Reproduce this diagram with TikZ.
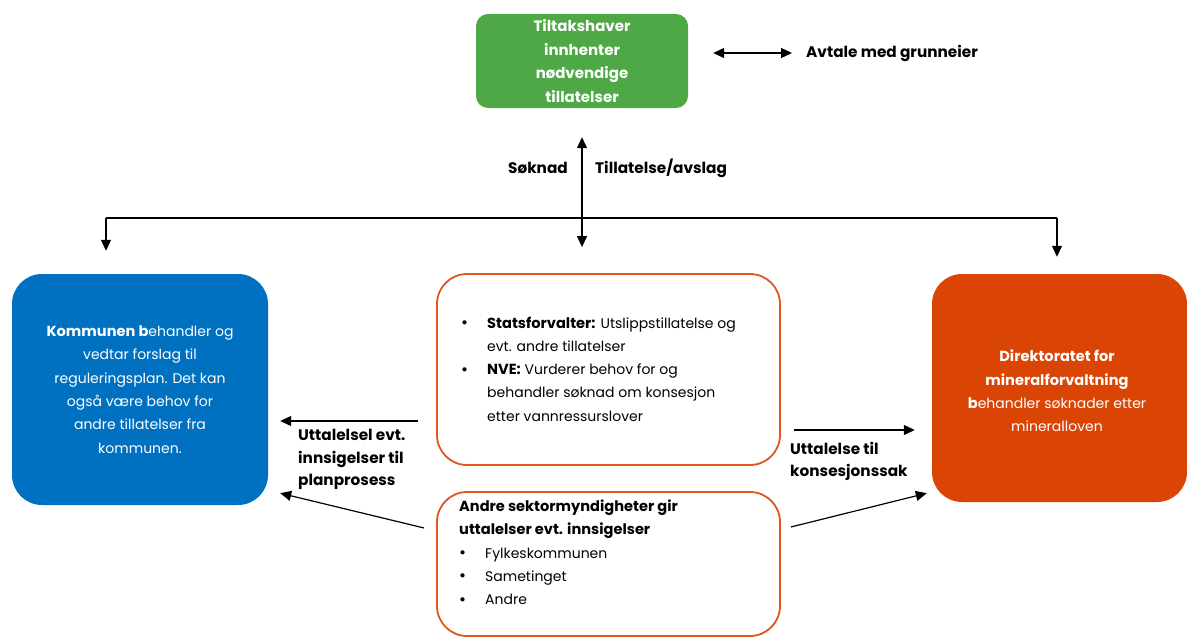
\documentclass[tikz,border=0pt]{standalone}
\usepackage{fontspec}
\setmainfont{Poppins}
\usetikzlibrary{arrows.meta,calc}
\definecolor{cgreen}{HTML}{4EA845}
\definecolor{cblue}{HTML}{0070C0}
\definecolor{corange}{HTML}{DA4506}
\definecolor{cline}{HTML}{E0561C}
\newcommand{\bul}{\makebox[26pt][l]{\raisebox{-0.5pt}{\fontsize{17}{0}\selectfont\textbullet}}}
\newcommand{\B}[1]{{\fontsize{14.6}{23.3}\selectfont\bfseries #1}}
\begin{document}
\begin{tikzpicture}[x=1pt,y=-1pt,
  box/.style={rounded corners=#1, inner sep=0pt},
  body/.style={font=\fontsize{14}{23.3}\selectfont},
  arr/.style={-{Triangle[length=11pt,width=10pt]}, line width=1.2pt},
  darr/.style={{Triangle[length=11pt,width=10pt]}-{Triangle[length=11pt,width=10pt]}, line width=1.2pt},
  lbl/.style={font=\fontsize{15.3}{22.5}\selectfont\bfseries, align=left, inner sep=0pt},
]
\useasboundingbox (0,0) rectangle (1187,637);

% boxes
\node[box=12pt, fill=cgreen, minimum width=212pt, minimum height=94pt, text=white, align=center,
  font=\fontsize{15}{23.5}\selectfont\bfseries] (green) at (582,61)
  {Tiltakshaver\\innhenter\\nødvendige\\tillatelser};

\node[box=30pt, fill=cblue, minimum width=256pt, minimum height=231pt, text=white, align=center, body] (kommune) at (140,389.5)
  {\B{Kommunen b}ehandler og\\vedtar forslag til\\reguleringsplan. Det kan\\også være behov for\\andre tillatelser fra\\kommunen.};

\node[box=30pt, draw=cline, line width=1.8pt, minimum width=343pt, minimum height=191pt] (stat) at (608.5,369.5) {};
\node[anchor=west, inner sep=0pt, body] (statT) at (461,370)
  {\begin{tabular}{@{}l@{}}
   \bul\B{Statsforvalter:} Utslippstillatelse og\\
   \hspace*{26pt}evt. andre tillatelser\\
   \bul\B{NVE:} Vurderer behov for og\\
   \hspace*{26pt}behandler søknad om konsesjon\\
   \hspace*{26pt}etter vannressurslover
   \end{tabular}};

\node[box=30pt, draw=cline, line width=1.8pt, minimum width=343pt, minimum height=144pt] (andre) at (608.5,564) {};
\node[anchor=west, inner sep=0pt, body] (andreT) at (459,553.5)
  {\begin{tabular}{@{}l@{}}
   \B{Andre sektormyndigheter gir}\\
   \B{uttalelser evt. innsigelser}\\
   \bul Fylkeskommunen\\
   \bul Sametinget\\
   \bul Andre
   \end{tabular}};

\node[box=30pt, fill=corange, minimum width=255pt, minimum height=228pt] (dmf) at (1059.5,388) {};
\node[text=white, align=center, body, inner sep=0pt] (dmfT) at (1057,391)
  {\B{Direktoratet for}\\\B{mineralforvaltning}\\\B{b}ehandler søknader etter\\mineralloven};

% labels
\node[lbl, anchor=west] (avtale) at (806,53) {Avtale med grunneier};
\node[lbl, anchor=east] (soknad) at (568,168) {Søknad};
\node[lbl, anchor=west] (tillatelse) at (595,168) {Tillatelse/avslag};
\node[lbl, anchor=north west] (uttL) at (298,429) {Uttalelsel evt.\\innsigelser til\\planprosess};
\node[lbl, anchor=north west] (uttR) at (790,442) {Uttalelse til\\konsesjonssak};

% connectors
\draw[darr, shorten <=25pt, shorten >=14pt] (green.east |- avtale.west) -- (avtale.west);
\draw[darr, shorten <=29pt, shorten >=26pt] (green.south) -- (green.south |- stat.north);

\coordinate (hl) at (106,218);
\coordinate (hr) at (1057,218);
\draw[line width=1.4pt] (hl) -- (hr);
\draw[arr, shorten >=23pt] (hl) -- (hl |- kommune.north);
\draw[arr, shorten >=17pt] (hr) -- (hr |- dmf.north);

\coordinate (y1) at (0,421);
\coordinate (y2) at (0,430);
\draw[arr, shorten <=18pt, shorten >=12pt] (stat.west |- y1) -- (kommune.east |- y1);
\draw[arr, shorten <=13pt, shorten >=17pt] (stat.east |- y2) -- (dmf.west |- y2);
\draw[arr] ([xshift=-12pt,yshift=36pt]andre.west) -- ([xshift=12pt,yshift=12pt]kommune.south east);
\draw[arr] ([xshift=10pt,yshift=37pt]andre.east) -- ([xshift=-5pt,yshift=9pt]dmf.south west);
\end{tikzpicture}
\end{document}
